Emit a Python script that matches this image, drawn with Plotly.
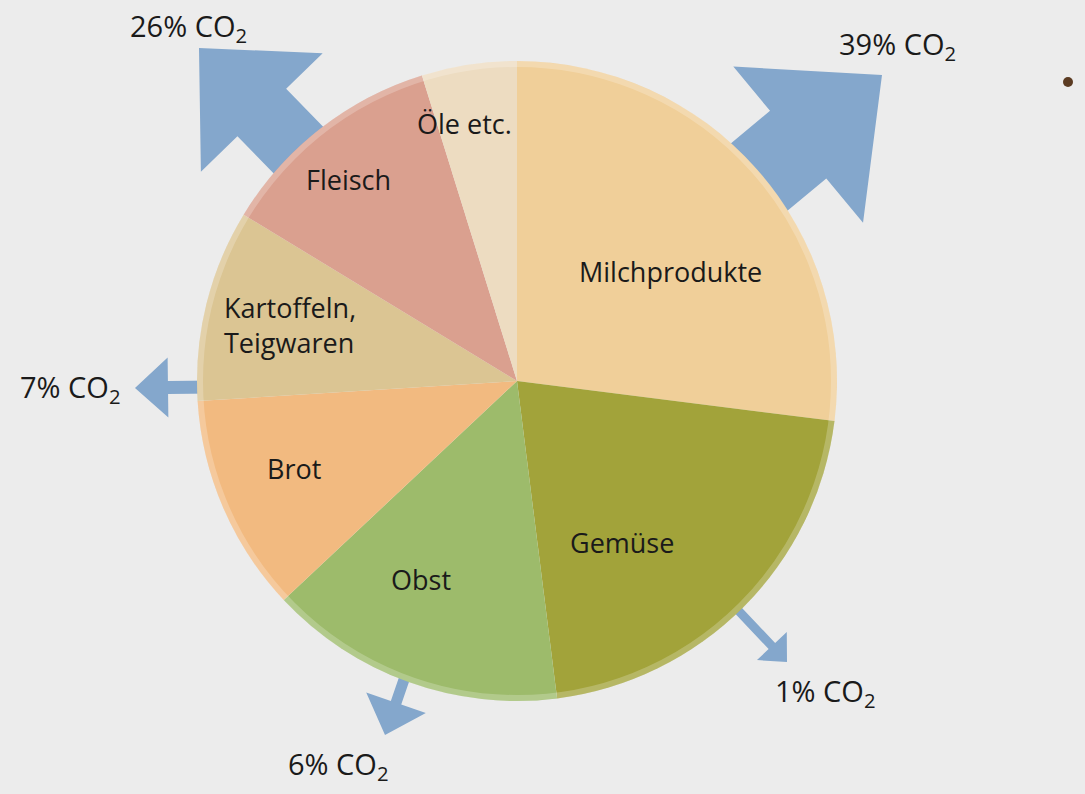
import math
import plotly.graph_objects as go

# ── Data ──────────────────────────────────────────────────────
CATEGORIES = ["Milchprodukte", "Gemüse", "Obst", "Brot",
              "Kartoffeln,<br>Teigwaren", "Fleisch", "Öle etc."]
SHARES = [27.0, 21.0, 15.0, 11.0, 9.7, 11.5, 4.8]
CO2_PCT = [39, 1, 6, 7, 26]

# ── Style ─────────────────────────────────────────────────────
W, H = 1085, 794
BG = "#ececec"
ARROW = "#84a7cc"
FONT = "Open Sans, sans-serif"
SLICE_COLORS = ["#f0cf99", "#a2a33a", "#9dbb6b", "#f2ba80",
                "#dbc593", "#daa08f", "#eddcc1"]

CX, CY, R = 517, 381, 320          # pie centre / radius in px

# label placement per slice: (radius fraction, angle shift in deg)
LABEL_PLACE = [(0.59, 6), (0.60, 12), (0.69, 6), (0.75, 2),
               (0.73, 0), (0.82, -2), (0.82, -3)]

# CO2 arrows: base, tip, shaft width, head width, head length (px)
ARROWS = [
    ((740, 193), (882, 75), 88, 203, 109),
    ((735, 607), (787, 662), 9, 41, 22),
    ((409, 665), (385, 735), 11, 63, 34),
    ((215, 387), (135, 388), 13, 60, 33),
    ((311, 163), (199, 48), 68, 170, 90),
]
CO2_POS = [(897, 45), (826, 692), (338, 765), (70, 388), (188, 28)]


def px(x, y):
    return x / W, 1 - y / H


def arrow_path(base, tip, sw, hw, hl):
    bx, by = base
    tx, ty = tip
    L = math.hypot(tx - bx, ty - by)
    ux, uy = (tx - bx) / L, (ty - by) / L
    nx, ny = -uy, ux
    kx, ky = tx - ux * hl, ty - uy * hl
    pts = [
        (bx + nx * sw / 2, by + ny * sw / 2),
        (kx + nx * sw / 2, ky + ny * sw / 2),
        (kx + nx * hw / 2, ky + ny * hw / 2),
        (tx, ty),
        (kx - nx * hw / 2, ky - ny * hw / 2),
        (kx - nx * sw / 2, ky - ny * sw / 2),
        (bx - nx * sw / 2, by - ny * sw / 2),
    ]
    pp = [px(*p) for p in pts]
    return "M " + " L ".join(f"{a:.5f},{b:.5f}" for a, b in pp) + " Z"


fig = go.Figure(go.Pie(
    labels=CATEGORIES,
    values=SHARES,
    sort=False,
    direction="clockwise",
    rotation=0,
    marker=dict(colors=SLICE_COLORS, line=dict(width=0)),
    textinfo="none",
    hoverinfo="label+percent",
    showlegend=False,
    domain=dict(x=[(CX - R) / W, (CX + R) / W],
                y=[1 - (CY + R) / H, 1 - (CY - R) / H]),
))

# slice labels, placed from cumulative slice angles
total = sum(SHARES)
start = 0.0
annotations = []
for name, val, (rf, shift) in zip(CATEGORIES, SHARES, LABEL_PLACE):
    span = val / total * 360
    mid = math.radians(start + span / 2 + shift)
    start += span
    x, y = px(CX + rf * R * math.sin(mid), CY - rf * R * math.cos(mid))
    annotations.append(dict(
        x=x, y=y, xref="paper", yref="paper", text=name, showarrow=False,
        xanchor="center", yanchor="middle", align="left",
        font=dict(size=27, color="#1a1a1a", family=FONT),
    ))

shapes = []
for (base, tip, sw, hw, hl) in ARROWS:
    shapes.append(dict(type="path", path=arrow_path(base, tip, sw, hw, hl),
                       xref="paper", yref="paper", fillcolor=ARROW,
                       line=dict(width=0), layer="below"))

# soft light rim around the pie
rx0, ry0 = px(CX - R + 3, CY + R - 3)
rx1, ry1 = px(CX + R - 3, CY - R + 3)
shapes.append(dict(type="circle", xref="paper", yref="paper",
                   x0=rx0, y0=ry0, x1=rx1, y1=ry1, layer="above",
                   line=dict(color="rgba(255,255,255,0.22)", width=6)))

for pct, (x0, y0) in zip(CO2_PCT, CO2_POS):
    x, y = px(x0, y0)
    annotations.append(dict(
        x=x, y=y, xref="paper", yref="paper", showarrow=False,
        xanchor="center", yanchor="middle",
        text=f"{pct}% CO<sub>2</sub>",
        font=dict(size=29, color="#1a1a1a", family=FONT),
    ))

# small bullet at right
bx0, by0 = px(1063, 77)
bx1, by1 = px(1073, 87)
shapes.append(dict(type="circle", xref="paper", yref="paper",
                   x0=bx0, y0=by1, x1=bx1, y1=by0,
                   fillcolor="#5b3b22", line=dict(width=0)))

fig.update_layout(
    width=W, height=H,
    paper_bgcolor=BG,
    plot_bgcolor=BG,
    margin=dict(l=0, r=0, t=0, b=0),
    font=dict(family=FONT),
    shapes=shapes,
    annotations=annotations,
)

fig.write_html("out.html",
               config={"displayModeBar": False},
               post_script="document.body.style.margin='0px';")
